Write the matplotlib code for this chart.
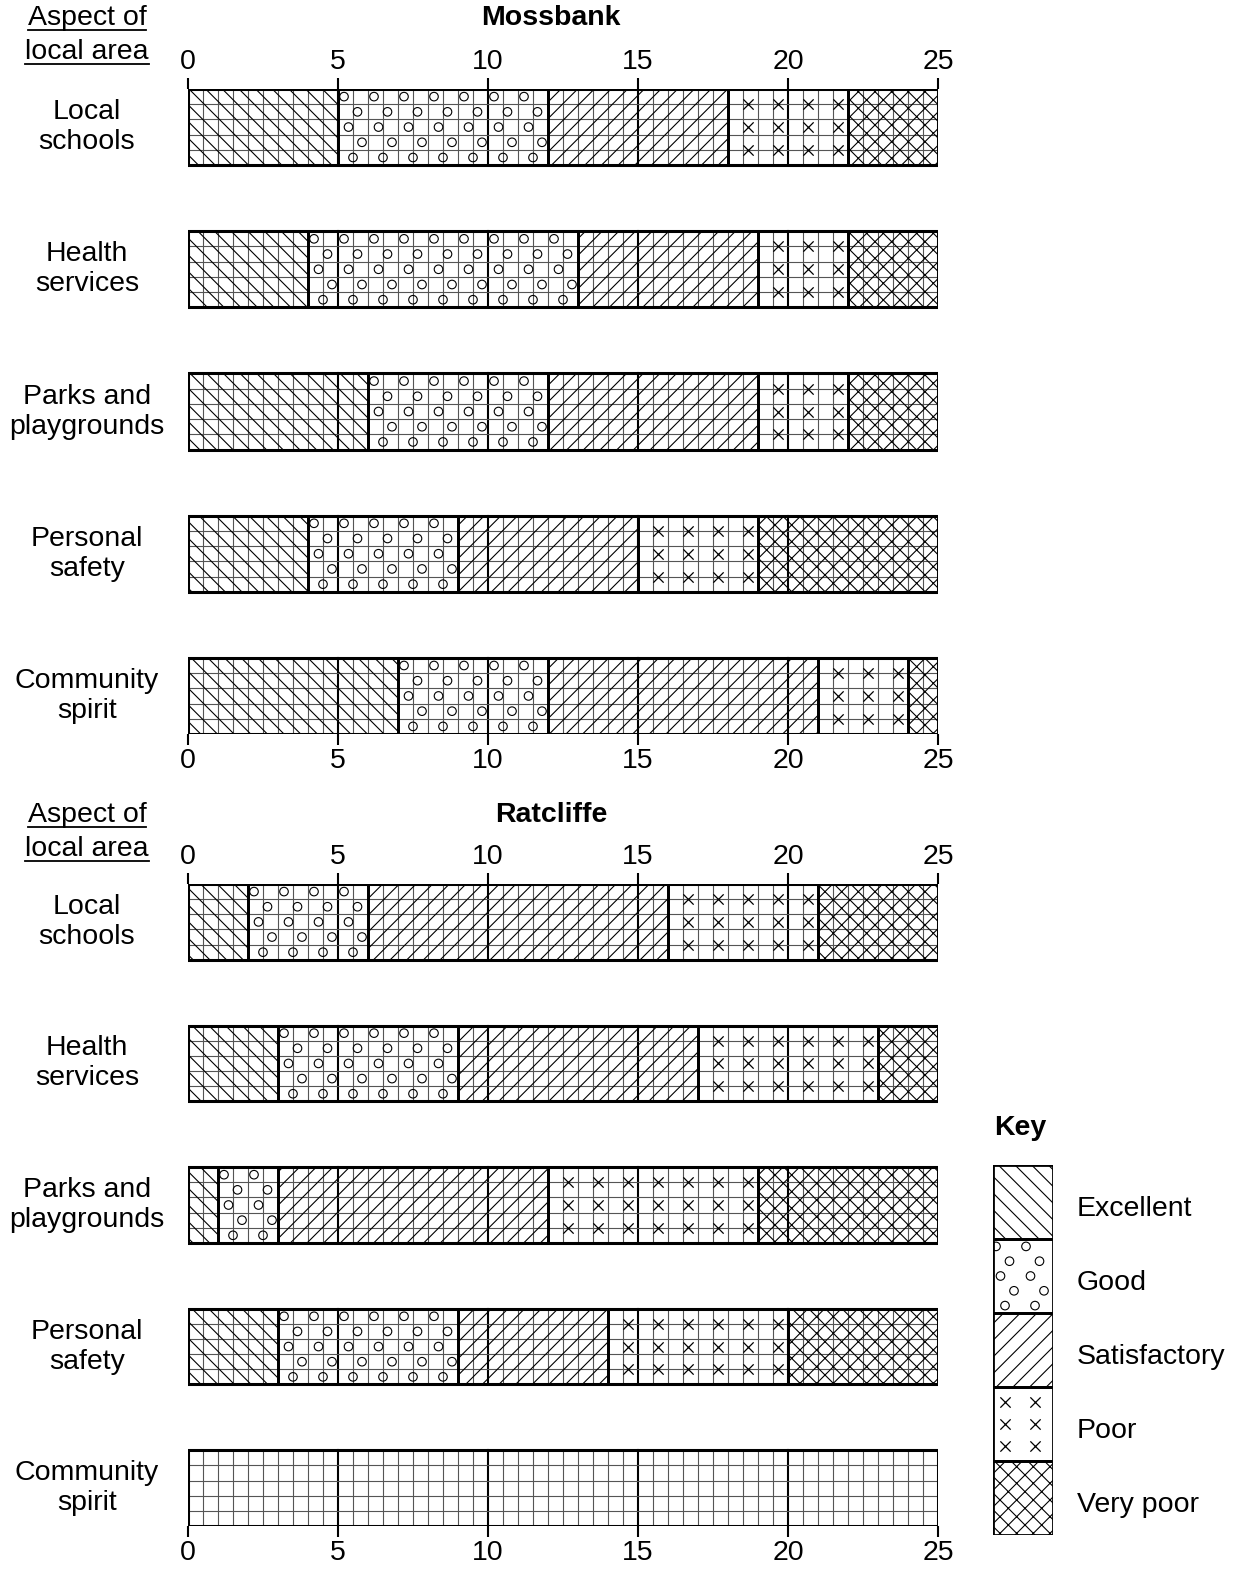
import numpy as np
import matplotlib
matplotlib.use('Agg')
import matplotlib.pyplot as plt
from matplotlib.transforms import blended_transform_factory
from matplotlib.lines import Line2D

plt.rcParams['font.family'] = ['Liberation Sans', 'DejaVu Sans']
plt.rcParams['hatch.linewidth'] = 0.8

W, H = 1247, 1580

ASPECTS = ['Local\nschools', 'Health\nservices', 'Parks and\nplaygrounds',
           'Personal\nsafety', 'Community\nspirit']
RATINGS = ['Excellent', 'Good', 'Satisfactory', 'Poor', 'Very poor']
HATCHES = ['\\\\', '', '//', '', 'xx']

# counts per rating: Excellent, Good, Satisfactory, Poor, Very poor
mossbank = [
    [5, 7, 6, 4, 3],
    [4, 9, 6, 3, 3],
    [6, 6, 7, 3, 3],
    [4, 5, 6, 4, 6],
    [7, 5, 9, 3, 1],
]
ratcliffe = [
    [2, 4, 10, 5, 4],
    [3, 6, 8, 6, 2],
    [1, 2, 9, 7, 6],
    [3, 6, 5, 6, 5],
    [0, 0, 0, 0, 0],
]
TICKS = [0, 5, 10, 15, 20, 25]
XMAX = 25

BAR_H = 76 / 142
FS = 20.5

# texture layout for the "Good" circles and "Poor" crosses (fractions of a cell)
CIRCLE_ROWS = [0.1, 0.3, 0.5, 0.7, 0.9]
CIRCLE_PHASE = [0.2, 0.65, 0.35, 0.8, 0.5]
CROSS_ROWS = [0.2, 0.5, 0.8]

fig = plt.figure(figsize=(W / 100, H / 100), dpi=100)


def px_axes(x0, y0, x1, y1):
    return fig.add_axes([x0 / W, 1 - y1 / H, (x1 - x0) / W, (y1 - y0) / H])


def draw_poor_marks(ax, left, width, ytop, h):
    xs, ys = [], []
    for k in range(int(width)):
        for f in CROSS_ROWS:
            xs.append(left + 0.65 + k)
            ys.append(ytop + f * h)
    ax.scatter(xs, ys, marker='x', s=55, color='black', linewidths=0.9, zorder=4)


def draw_good_marks(ax, left, width, ytop, h):
    xs, ys = [], []
    for r, f in enumerate(CIRCLE_ROWS):
        for k in range(int(width)):
            xs.append(left + CIRCLE_PHASE[r] + k)
            ys.append(ytop + f * h)
    ax.scatter(xs, ys, marker='o', s=38, facecolors='none', edgecolors='black',
               linewidths=0.8, zorder=4)


def draw_panel(ax, data, title, title_y):
    ax.set_xlim(0, XMAX)
    ax.set_ylim(len(data) - 1 + BAR_H / 2, -BAR_H / 2)
    for i, vals in enumerate(data):
        y0, y1 = i - BAR_H / 2, i + BAR_H / 2
        # fine grid inside each bar
        for gx in np.arange(0.5, XMAX, 0.5):
            major = gx % 5 == 0
            ax.plot([gx, gx], [y0, y1], color='black' if major else '#555555',
                    lw=1.5 if major else 0.8, zorder=1)
        for k in range(1, 5):
            gy = y0 + k * BAR_H / 5
            ax.plot([0, XMAX], [gy, gy], color='#555555', lw=0.8, zorder=1)
        lefts = np.cumsum([0] + vals[:-1])
        for j, (w, l) in enumerate(zip(vals, lefts)):
            if w == 0:
                continue
            ax.barh(i, w, left=l, height=BAR_H, facecolor='none', edgecolor='black',
                    hatch=HATCHES[j], lw=2, zorder=2)
            if RATINGS[j] == 'Poor':
                draw_poor_marks(ax, l, w, y0, BAR_H)
            if RATINGS[j] == 'Good':
                draw_good_marks(ax, l, w, y0, BAR_H)
        ax.barh(i, XMAX, left=0, height=BAR_H, facecolor='none', edgecolor='black',
                lw=2.2, zorder=5)
        tr = blended_transform_factory(fig.transFigure, ax.transData)
        ax.text(87 / W, i, ASPECTS[i], transform=tr, ha='center', va='center',
                fontsize=FS, linespacing=1.2)
    for s in ax.spines.values():
        s.set_visible(False)
    ax.set_yticks([])
    ax.set_xticks(TICKS)
    ax.tick_params(axis='x', top=True, labeltop=True, bottom=True, labelbottom=True,
                   length=8, width=1.5, labelsize=FS, pad=2)
    fig.text(551 / W, 1 - title_y / H, title, ha='center', va='center',
             fontsize=FS, fontweight='bold')


def underlined_header(y_top):
    texts = []
    for k, line in enumerate(['Aspect of', 'local area']):
        t = fig.text(87 / W, 1 - (y_top + 34 * k) / H, line, ha='center',
                     va='center', fontsize=FS)
        texts.append(t)
    fig.canvas.draw()
    inv = fig.transFigure.inverted()
    for t in texts:
        bb = t.get_window_extent()
        (x0, yb), (x1, _) = inv.transform([[bb.x0, bb.y0], [bb.x1, bb.y1]])
        fig.add_artist(Line2D([x0, x1], [yb + 1 / H, yb + 1 / H], color='black',
                              lw=1.3, transform=fig.transFigure))


ax1 = px_axes(188, 89, 938, 734)
draw_panel(ax1, mossbank, 'Mossbank', 18)
ax2 = px_axes(188, 884, 938, 1526)
draw_panel(ax2, ratcliffe, 'Ratcliffe', 815)

# key
kax = px_axes(993, 1165, 1053, 1535)
kax.set_xlim(0, 2)
kax.set_ylim(len(RATINGS), 0)
for j, name in enumerate(RATINGS):
    kax.bar(1, 1, bottom=j, width=2, facecolor='none', edgecolor='black',
            hatch=HATCHES[j], lw=2, zorder=2)
    if name == 'Poor':
        draw_poor_marks(kax, -0.25, 2, j, 1)
    if name == 'Good':
        draw_good_marks(kax, -0.1, 2, j, 1)
    kax.annotate(name, xy=(2, j + 0.6), xycoords='data', xytext=(24, 0),
                 textcoords='offset pixels', ha='left', va='center', fontsize=FS,
                 annotation_clip=False)
kax.axis('off')
fig.text(1020 / W, 1 - 1128 / H, 'Key', ha='center', va='center', fontsize=FS,
         fontweight='bold')

underlined_header(18)
underlined_header(815)

fig.savefig('out.png', dpi=100, facecolor='white')
